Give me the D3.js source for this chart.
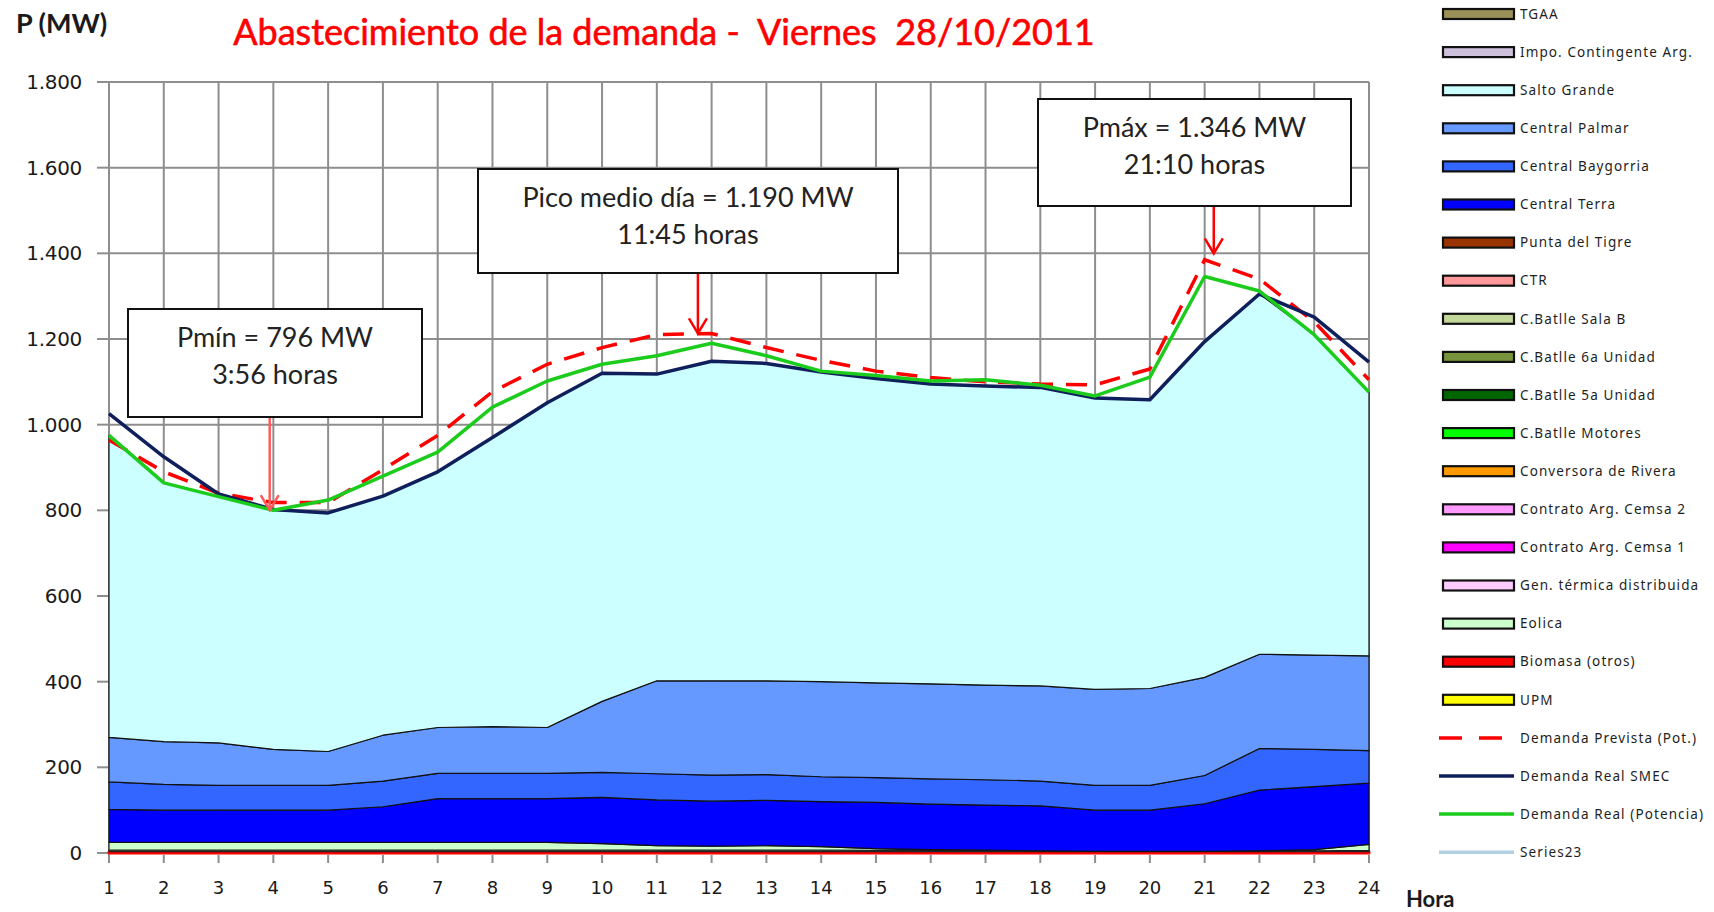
<!DOCTYPE html>
<html>
<head>
<meta charset="utf-8">
<script src="https://cdn.jsdelivr.net/npm/d3@7"></script>
<style>
    body { margin: 0; background: #fff; }
    svg text { font-family: Lato, "Open Sans", sans-serif; }
</style>
</head>
<body>
<script>
// Hours of the day (x categories) and y ticks
const hours  = [1, 2, 3, 4, 5, 6, 7, 8, 9, 10, 11, 12, 13, 14, 15, 16, 17, 18, 19, 20, 21, 22, 23, 24]
const yTicks = [0, 200, 400, 600, 800, 1000, 1200, 1400, 1600, 1800]

// Generation per source (MW)
const biomasa     = [3, 3, 3, 3, 3, 3, 3, 3, 3, 3, 3, 3, 3, 3, 3, 3, 3, 3, 3, 3, 3, 3, 3, 3]
const batlle6a    = [4, 4, 4, 4, 4, 4, 4, 4, 4, 4, 4, 4, 4, 4, 3, 3, 3, 2, 1, 1, 1, 2, 2, 3]
const eolica      = [18, 18, 18, 18, 18, 18, 18, 18, 18, 15, 10, 9, 10, 8, 4, 2, 1, 0, 0, 0, 0, 0, 3, 14]
const terra       = [77, 75, 75, 75, 75, 83, 102, 102, 102, 108, 107, 105, 106, 105, 108, 106, 105, 105, 96, 96, 111, 142, 147, 143]
const baygorria   = [64, 60, 58, 58, 58, 60, 59, 59, 59, 58, 61, 61, 60, 58, 58, 59, 59, 58, 58, 58, 66, 97, 87, 76]
const palmar      = [104, 100, 99, 84, 79, 107, 107, 109, 107, 166, 217, 220, 219, 222, 221, 222, 221, 222, 224, 226, 229, 220, 220, 221]
const saltoGrande = [705, 604, 575, 558, 557, 558, 597, 675, 758, 766, 716, 746, 741, 723, 711, 700, 698, 697, 680, 674, 784, 841, 748, 616]

// Demand curves (MW)
const demandaPrevista = [964, 890, 840, 818, 818, 895, 975, 1077, 1141, 1180, 1210, 1213, 1180, 1150, 1125, 1110, 1100, 1095, 1093, 1130, 1385, 1340, 1240, 1105]
const demandaSmec     = [1026, 925, 838, 802, 794, 833, 890, 970, 1051, 1120, 1118, 1148, 1143, 1123, 1108, 1095, 1090, 1087, 1062, 1058, 1194, 1305, 1251, 1146]
const demandaPot      = [975, 864, 832, 800, 824, 880, 936, 1041, 1102, 1141, 1161, 1190, 1161, 1125, 1115, 1102, 1105, 1092, 1067, 1111, 1346, 1312, 1210, 1076]

// Legend
const legendNames = ["TGAA", "Impo. Contingente Arg.", "Salto Grande", "Central Palmar", "Central Baygorria",
    "Central Terra", "Punta del Tigre", "CTR", "C.Batlle Sala B", "C.Batlle 6a Unidad", "C.Batlle 5a Unidad",
    "C.Batlle Motores", "Conversora de Rivera", "Contrato Arg. Cemsa 2", "Contrato Arg. Cemsa 1",
    "Gen. térmica distribuida", "Eolica", "Biomasa (otros)", "UPM", "Demanda Prevista (Pot.)",
    "Demanda Real SMEC", "Demanda Real (Potencia)", "Series23"]
const legendColors = ["#9a9058", "#ccc0da", "#ccffff", "#6699ff", "#3366ff", "#0000ff", "#993300", "#ff9999",
    "#c4d79b", "#77933c", "#006600", "#00ff00", "#ff9900", "#ff99ff", "#ff00ff", "#ffccff", "#ccffcc",
    "#ff0000", "#ffff00", "#ff0000", "#0f1f5c", "#1ccc1c", "#b0cfe0"]
const legendKinds = ["area", "area", "area", "area", "area", "area", "area", "area", "area", "area", "area",
    "area", "area", "area", "area", "area", "area", "area", "area", "dash", "line", "line", "line"]

// Annotations
const annoLine1 = ["Pmín = 796 MW", "Pico medio día = 1.190 MW", "Pmáx = 1.346 MW"]
const annoLine2 = ["3:56 horas", "11:45 horas", "21:10 horas"]
const annoHour  = [3 + 56 / 60, 11 + 45 / 60, 21 + 10 / 60]
const annoValue = [796, 1190, 1346]

// ---- layout ----
const W = 1714, H = 912
const plot = {left: 109, right: 1369, top: 82, bottom: 853}
const boxes = [
    {x: 128, y: 309, w: 294, h: 108, gap: 2, color: "#ff5a5a"},
    {x: 478, y: 169, w: 420, h: 104, gap: 10, color: "#ff0000"},
    {x: 1038, y: 99, w: 313, h: 107, gap: 23, color: "#ff0000"}
]

const es = d3.formatLocale({decimal: ",", thousands: ".", grouping: [3], currency: ["", ""]})
const fmt = es.format(",")

const svg = d3.select("body").append("svg")
    .attr("width", W)
    .attr("height", H)

const x = d3.scaleLinear().domain([1, 24]).range([plot.left, plot.right])
const y = d3.scaleLinear().domain([0, 1800]).range([plot.bottom, plot.top])

// grid
const grid = svg.append("g").attr("stroke", "#8e8e8e").attr("stroke-width", 2)
grid.selectAll(".h").data(yTicks).join("line")
    .attr("x1", plot.left).attr("x2", plot.right)
    .attr("y1", d => y(d)).attr("y2", d => y(d))
grid.selectAll(".v").data(hours).join("line")
    .attr("x1", d => x(d)).attr("x2", d => x(d))
    .attr("y1", plot.top).attr("y2", plot.bottom)

// stacked areas (bottom up)
const stackKeys    = ["biomasa", "batlle6a", "eolica", "terra", "baygorria", "palmar", "saltoGrande"]
const stackColors  = ["#ff0000", "#77933c", "#ccffcc", "#0000ff", "#3366ff", "#6699ff", "#ccffff"]
const stackStrokes = ["#ff0000", "#222", "#222", "#111", "#111", "#111", "#111"]
const rows = hours.map((h, i) => ({
    hour: h, biomasa: biomasa[i], batlle6a: batlle6a[i], eolica: eolica[i], terra: terra[i],
    baygorria: baygorria[i], palmar: palmar[i], saltoGrande: saltoGrande[i]
}))
const series = d3.stack().keys(stackKeys)(rows)

const area = d3.area()
    .x(d => x(d.data.hour))
    .y0(d => y(d[0]))
    .y1(d => y(d[1]))

// axes (drawn under the areas so the red base stays visible)
const axis = svg.append("g").attr("stroke", "#8e8e8e").attr("stroke-width", 2)
axis.append("line")
    .attr("x1", plot.left).attr("x2", plot.left)
    .attr("y1", plot.top).attr("y2", plot.bottom + 9)
axis.selectAll(".yt").data(yTicks).join("line")
    .attr("x1", plot.left - 12).attr("x2", plot.left)
    .attr("y1", d => y(d)).attr("y2", d => y(d))
axis.selectAll(".xt").data(hours).join("line")
    .attr("x1", d => x(d)).attr("x2", d => x(d))
    .attr("y1", plot.bottom + 2).attr("y2", plot.bottom + 10)

svg.append("g").selectAll("path").data(series).join("path")
    .attr("d", area)
    .attr("fill", (d, i) => stackColors[i])
    .attr("stroke", (d, i) => stackStrokes[i])
    .attr("stroke-width", (d, i) => i == 0 ? 3 : 1.2)
    .attr("stroke-linejoin", "round")

svg.append("g").selectAll("text").data(yTicks).join("text")
    .attr("x", 82)
    .attr("y", d => y(d))
    .attr("dy", "0.35em")
    .attr("text-anchor", "end")
    .style("font-family", "'DejaVu Sans', sans-serif")
    .style("font-size", "20px")
    .style("letter-spacing", "-0.3px")
    .attr("fill", "#1a1a1a")
    .text(d => fmt(d))

svg.append("g").selectAll("text").data(hours).join("text")
    .attr("x", d => x(d))
    .attr("y", 888)
    .attr("dy", "0.35em")
    .attr("text-anchor", "middle")
    .style("font-family", "'DejaVu Sans', sans-serif")
    .style("font-size", "18px")
    .attr("fill", "#1a1a1a")
    .text(d => d)

// demand lines
const line = d3.line().x((d, i) => x(hours[i])).y(d => y(d))
svg.append("path").datum(demandaPrevista)
    .attr("d", line).attr("fill", "none")
    .attr("stroke", "#ff0000").attr("stroke-width", 3.5)
    .attr("stroke-dasharray", "21,13")
svg.append("path").datum(demandaSmec)
    .attr("d", line).attr("fill", "none")
    .attr("stroke", "#0f1f5c").attr("stroke-width", 3.5)
    .attr("stroke-linejoin", "round")
svg.append("path").datum(demandaPot)
    .attr("d", line).attr("fill", "none")
    .attr("stroke", "#1ccc1c").attr("stroke-width", 3.5)
    .attr("stroke-linejoin", "round")

// annotation boxes with arrows
boxes.forEach((b, i) => {
    let g = svg.append("g")
    let ax = x(annoHour[i])
    let tip = y(annoValue[i]) - b.gap
    g.append("line")
        .attr("x1", ax).attr("x2", ax)
        .attr("y1", b.y + b.h).attr("y2", tip)
        .attr("stroke", b.color).attr("stroke-width", 2.5)
    g.append("path")
        .attr("d", `M${ax - 9},${tip - 15}L${ax},${tip}L${ax + 9},${tip - 15}`)
        .attr("fill", "none").attr("stroke", b.color).attr("stroke-width", 2.5)
    g.append("rect")
        .attr("x", b.x).attr("y", b.y).attr("width", b.w).attr("height", b.h)
        .attr("fill", "#fff").attr("stroke", "#111").attr("stroke-width", 2)
    g.append("text")
        .attr("x", b.x + b.w / 2).attr("y", b.y + 29).attr("dy", "0.35em")
        .attr("text-anchor", "middle")
        .style("font-size", "27px").attr("fill", "#222")
        .text(annoLine1[i])
    g.append("text")
        .attr("x", b.x + b.w / 2).attr("y", b.y + 66).attr("dy", "0.35em")
        .attr("text-anchor", "middle")
        .style("font-size", "27px").attr("fill", "#222")
        .text(annoLine2[i])
})

// titles
svg.append("text")
    .attr("x", 664).attr("y", 32).attr("dy", "0.35em")
    .attr("text-anchor", "middle")
    .style("font-size", "36px")
    .style("white-space", "pre")
    .attr("fill", "#ff0000")
    .attr("stroke", "#ff0000").attr("stroke-width", 0.6)
    .text("Abastecimiento de la demanda -  Viernes  28/10/2011")

svg.append("text")
    .attr("x", 16).attr("y", 24).attr("dy", "0.35em")
    .style("font-size", "27px").style("font-weight", "bold")
    .attr("fill", "#1a1a1a")
    .text("P (MW)")

svg.append("text")
    .attr("x", 1406).attr("y", 899).attr("dy", "0.35em")
    .style("font-size", "22px").style("font-weight", "bold")
    .attr("fill", "#1a1a1a")
    .text("Hora")

// legend
const leg = svg.append("g")
legendNames.forEach((name, i) => {
    let cy = 14 + i * 38.1
    if (legendKinds[i] == "area") {
        leg.append("rect")
            .attr("x", 1443).attr("y", cy - 5).attr("width", 71).attr("height", 10)
            .attr("fill", legendColors[i]).attr("stroke", "#111").attr("stroke-width", 2.2)
    } else {
        leg.append("line")
            .attr("x1", 1439).attr("x2", legendKinds[i] == "dash" ? 1502 : 1514)
            .attr("y1", cy).attr("y2", cy)
            .attr("stroke", legendColors[i]).attr("stroke-width", 3.5)
            .attr("stroke-dasharray", legendKinds[i] == "dash" ? "23,17" : null)
    }
    leg.append("text")
        .attr("x", 1520).attr("y", cy).attr("dy", "0.35em")
        .style("font-family", "'Noto Sans', sans-serif")
        .style("font-size", "13.5px")
        .style("letter-spacing", "1.1px")
        .attr("fill", "#1e1e1e")
        .text(name)
})
</script>
</body>
</html>
